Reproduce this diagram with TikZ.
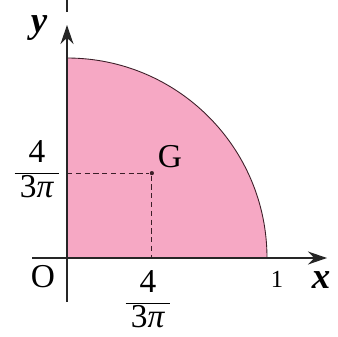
\documentclass[tikz,border=0pt]{standalone}
\usepackage{amsmath}
\usepackage{fontspec}
\setmainfont{Liberation Serif}
\usepackage{tikz}
\usetikzlibrary{
    arrows.meta,
    positioning,
    calc
}
\definecolor{qPink}{RGB}{246,168,196}
\definecolor{qLine}{RGB}{60,30,40}
\tikzset{
  axis/.style   = {-{Stealth[length=3.8mm,width=2.6mm]}, line width=0.8pt, black!85},
  rim/.style    = {line width=0.5pt, qLine},
  guide/.style  = {densely dashed, line width=0.5pt, qLine},
  lbl/.style    = {font=\fontsize{19}{22}\selectfont, inner sep=0pt},
  axlbl/.style  = {font=\fontsize{21}{24}\selectfont\bfseries\itshape, inner sep=0pt}
}
\newcommand{\cgfrac}{{\renewcommand{\arraystretch}{0.9}%
  \begin{tabular}{@{\kern3pt}c@{\kern3pt}}4\\\hline 3\textit{π}\end{tabular}}}

\begin{document}
\begin{tikzpicture}[x=4cm,y=4cm]
    \useasboundingbox (-0.335,-0.39) rectangle (1.355,1.29);

    \coordinate (O)    at (0,0);
    \coordinate (xL)   at (-0.175,0);
    \coordinate (xR)   at (1.3,0);
    \coordinate (yB)   at (0,-0.22);
    \coordinate (yT)   at (0,1.165);
    \coordinate (yTop) at (0,1.29);
    \coordinate (yTk)  at (0,1.23);
    \coordinate (Gx)   at (0.4244,0);
    \coordinate (Gy)   at (0,0.4244);

    % quarter disc
    \fill[qPink] (O) -- (1,0) arc (0:90:1) -- cycle;
    \draw[rim] (1,0) arc (0:90:1);

    % centroid
    \node[circle, fill=qLine, inner sep=0pt, minimum size=2.4pt] (G) at (0.4244,0.4244) {};
    \draw[guide] (Gy) -- (G);
    \draw[guide] (G) -- (Gx);

    % axes
    \draw[axis] (xL) -- (xR);
    \draw[axis] (yB) -- (yT);
    \draw[line width=0.6pt, black!85] (yTk) -- (yTop);

    % labels
    \node[axlbl] (xlab) at (1.27,-0.11) {x};
    \node[axlbl] (ylab) at (-0.14,1.15) {y};
    \node[lbl]   (olab) at (-0.12,-0.095) {O};
    \node[font=\fontsize{14}{16}\selectfont, inner sep=0pt] (one) at (1.05,-0.105) {1};
    \node[lbl]   (glab) at (0.515,0.505) {G};
    \node[lbl]   (fy)   at (-0.15,0.425) {\cgfrac};
    \node[lbl]   (fx)   at (0.405,-0.225) {\cgfrac};
\end{tikzpicture}
\end{document}
